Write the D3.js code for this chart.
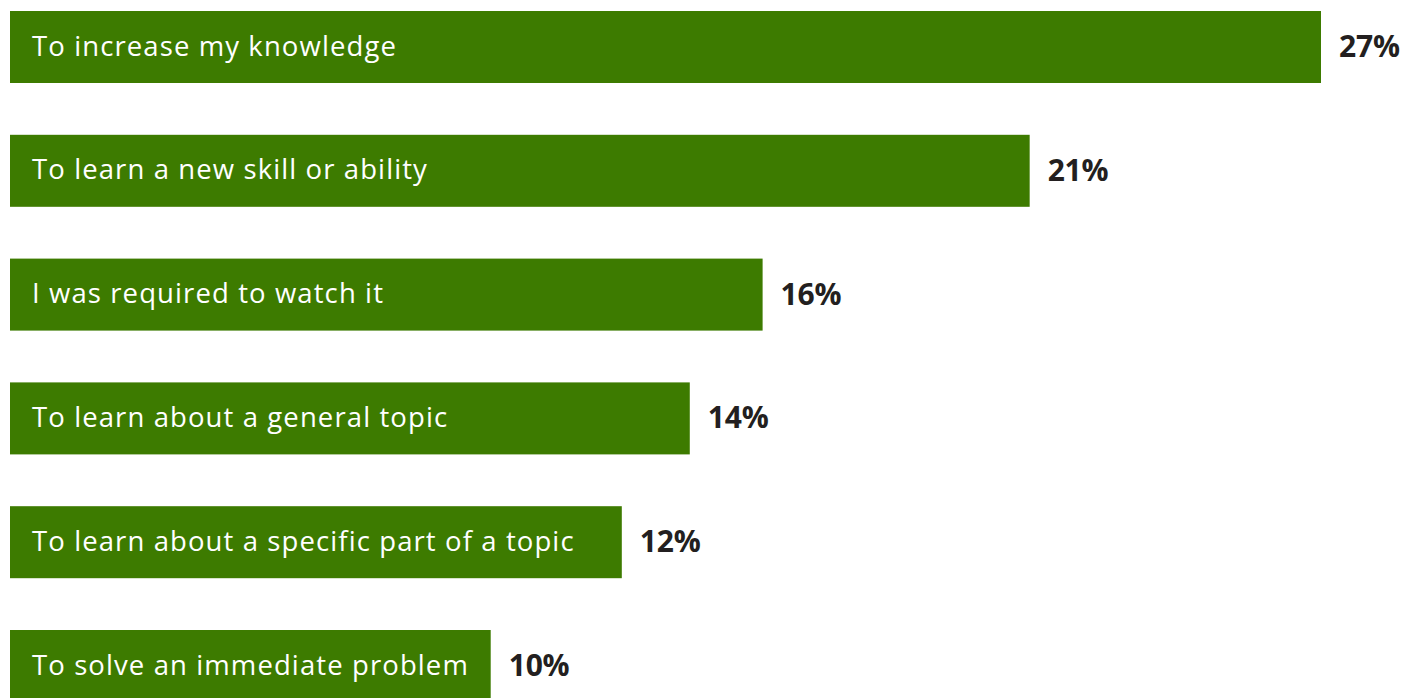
<!DOCTYPE html>
<html><head><meta charset="utf-8">
<script src="https://cdn.jsdelivr.net/npm/d3@7"></script>
<style>body{margin:0;background:#fff;overflow:hidden}</style>
</head><body>
<svg id="chart" width="1422" height="698"></svg>
<script>
const categories = [
  "To increase my knowledge",
  "To learn a new skill or ability",
  "I was required to watch it",
  "To learn about a general topic",
  "To learn about a specific part of a topic",
  "To solve an immediate problem"
];
const values = [27, 21, 15.5, 14, 12.6, 9.9];
const valueLabels = ["27%", "21%", "16%", "14%", "12%", "10%"];

const svg = d3.select("#chart");
const x = d3.scaleLinear().domain([0, 27]).range([10, 1321]);
const step = 123.8, bh = 72;
const yPos = d3.scalePoint().domain(categories).range([11, 11 + step * 5]);

const rows = svg.append("g").selectAll("g.row").data(categories).join("g").attr("class", "row");

rows.append("rect")
  .attr("x", x(0))
  .attr("y", d => yPos(d))
  .attr("width", (d, i) => x(values[i]) - x(0))
  .attr("height", bh)
  .attr("fill", "#3d7b00");

rows.append("text")
  .attr("x", x(0) + 22)
  .attr("y", d => yPos(d) + bh / 2 + 8.5)
  .attr("fill", "#ffffff")
  .attr("font-family", "'Open Sans', sans-serif")
  .attr("font-size", 27.5)
  .attr("letter-spacing", "1.1")
  .text(d => d);

rows.append("text")
  .attr("x", (d, i) => x(values[i]) + 18)
  .attr("y", d => yPos(d) + bh / 2 + 10)
  .attr("fill", "#231f20")
  .attr("font-family", "'Open Sans', sans-serif")
  .attr("font-weight", "bold")
  .attr("font-size", 30)
  .attr("letter-spacing", "-0.2")
  .text((d, i) => valueLabels[i]);
</script>
</body></html>
